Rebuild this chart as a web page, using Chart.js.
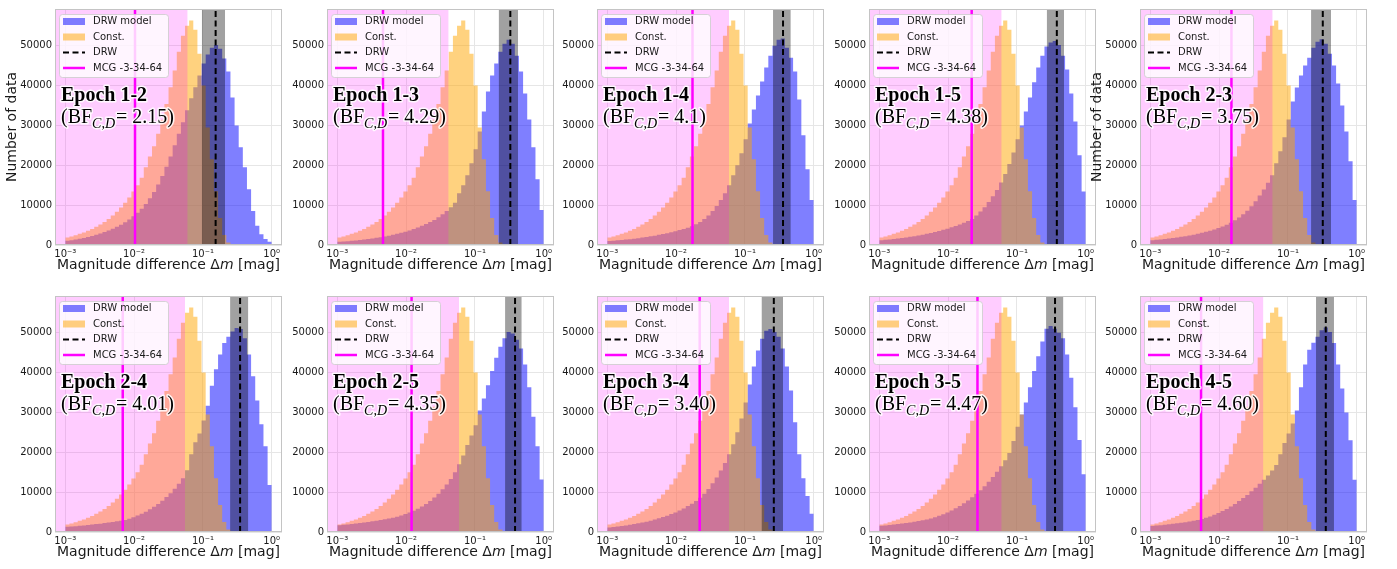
<!DOCTYPE html>
<html>
<head>
<meta charset="utf-8">
<script src="https://cdn.jsdelivr.net/npm/chart.js@4.4.1/dist/chart.umd.min.js"></script>
<style>
html, body { margin: 0; padding: 0; background: #fff; overflow: hidden; }
#wrap { position: relative; width: 1397px; height: 569px; }
#wrap canvas { position: absolute; }
</style>
</head>
<body>
<div id="wrap"></div>
<script>
// Histogram bin edges (50 log-spaced bins between 1e-3 and 1)
const binEdges = [0.001, 0.001148, 0.001318, 0.001514, 0.001738, 0.001995, 0.002291, 0.002630, 0.003020, 0.003467,
  0.003981, 0.004571, 0.005248, 0.006026, 0.006918, 0.007943, 0.009120, 0.010471, 0.012023, 0.013804,
  0.015849, 0.018197, 0.020893, 0.023988, 0.027542, 0.031623, 0.036308, 0.041687, 0.047863, 0.054954,
  0.063096, 0.072444, 0.083176, 0.095499, 0.109648, 0.125893, 0.144544, 0.165959, 0.190546, 0.218776,
  0.251189, 0.288403, 0.331131, 0.380189, 0.436516, 0.501187, 0.575440, 0.660693, 0.758578, 0.870964, 1.0];

// Const. model counts (same simulation in every panel)
const constCounts = [1900, 2150, 2450, 2800, 3150, 3550, 4000, 4550, 5150, 5800,
  6550, 7400, 8350, 9400, 10600, 11900, 13400, 15000, 16900, 19500,
  22200, 24800, 27900, 31400, 35400, 39600, 43800, 48500, 52500, 55000,
  56300, 54000, 48000, 40000, 29500, 21500, 13500, 6800, 2500, 600,
  100, 0, 0, 0, 0, 0, 0, 0, 0, 0];

// DRW model counts, one array per epoch pair
const drw12 = [1050, 1200, 1350, 1550, 1750, 2000, 2250, 2550, 2900, 3250,
  3650, 4100, 4600, 5100, 5700, 6400, 7200, 8100, 9100, 10300,
  11700, 13300, 15200, 17300, 19600, 22200, 25000, 27900, 30800, 33800,
  36800, 39600, 42500, 45500, 47800, 49500, 50200, 49200, 46800, 43500,
  37000, 30000, 24500, 19500, 14000, 8500, 4800, 2700, 1500, 800];
const drw13 = [800, 880, 960, 1050, 1150, 1260, 1380, 1510, 1650, 1800,
  1960, 2140, 2340, 2560, 2800, 3060, 3350, 3660, 4000, 4380,
  4800, 5250, 5750, 6300, 6950, 7700, 8550, 9500, 10600, 13000,
  15000, 17500, 20500, 24000, 28500, 33500, 38500, 42500, 45500, 48500,
  50500, 51500, 50500, 47500, 43500, 38000, 31500, 24500, 16500, 8800];
const drw14 = [1000, 1080, 1170, 1260, 1360, 1470, 1590, 1720, 1860, 2010,
  2170, 2350, 2540, 2750, 2970, 3210, 3470, 3750, 4000, 4300,
  4700, 5200, 5800, 6500, 7400, 8500, 9800, 11300, 13000, 15000,
  17500, 20000, 23000, 26500, 30500, 34000, 37500, 41000, 44500, 47500,
  50000, 51500, 51800, 49500, 47000, 43500, 36500, 27500, 19000, 11300];
const drw15 = [1200, 1300, 1400, 1510, 1630, 1760, 1900, 2050, 2220, 2400,
  2590, 2800, 3020, 3260, 3520, 3800, 4100, 4430, 4790, 5170,
  5590, 6030, 6550, 7400, 8400, 9500, 10800, 12200, 13800, 15700,
  17800, 20300, 23200, 26500, 30000, 33500, 37000, 40800, 44500, 47500,
  49800, 50800, 51200, 50200, 47500, 44000, 38000, 31000, 22500, 13400];
const drw23 = [1200, 1300, 1400, 1510, 1630, 1760, 1900, 2050, 2220, 2400,
  2600, 2820, 3060, 3320, 3600, 3900, 4250, 4650, 5100, 5600,
  6200, 6900, 7700, 8600, 9700, 11000, 12400, 13900, 15600, 17500,
  20500, 23500, 27000, 31500, 36000, 39500, 42500, 45000, 47000, 49500,
  51000, 51600, 50500, 48000, 45000, 40500, 35000, 28500, 21000, 11300];
const drw24 = [1300, 1380, 1470, 1560, 1650, 1760, 1870, 1980, 2100, 2230,
  2370, 2520, 2680, 2840, 3000, 3350, 3700, 4150, 4600, 5100,
  5700, 6350, 7050, 7850, 8750, 9750, 10850, 12100, 13500, 15500,
  19500, 22500, 24700, 28000, 31700, 36700, 40800, 44500, 47400, 49000,
  50300, 51200, 50900, 48600, 44500, 39100, 33000, 27000, 21500, 11800];
const drw25 = [1700, 1800, 1900, 2000, 2120, 2250, 2380, 2520, 2670, 2830,
  3000, 3180, 3380, 3600, 3850, 4150, 4500, 4900, 5350, 5850,
  6400, 7050, 7800, 8650, 9600, 10700, 11900, 13300, 15000, 17000,
  19200, 21800, 24200, 26800, 30500, 33500, 36800, 40400, 43700, 46500,
  48600, 50200, 49800, 48200, 46000, 42000, 36300, 28900, 21500, 13200];
const drw34 = [1150, 1250, 1380, 1500, 1650, 1800, 1980, 2170, 2380, 2600,
  2850, 3120, 3420, 3750, 4100, 4500, 4900, 5400, 5900, 6500,
  7100, 7800, 8600, 9600, 10800, 12200, 13700, 15400, 17300, 19500,
  22000, 25000, 28500, 32500, 37000, 41500, 45500, 48500, 50500, 50900,
  50200, 49000, 46000, 41500, 35500, 27500, 19500, 13500, 9000, 4600];
const drw35 = [1550, 1650, 1760, 1870, 1990, 2120, 2260, 2410, 2570, 2740,
  2920, 3120, 3400, 3700, 4050, 4450, 4900, 5400, 5950, 6550,
  7200, 7900, 8700, 9600, 10500, 11500, 12600, 13800, 15100, 16500,
  18000, 19800, 22800, 26400, 29500, 32500, 36300, 40400, 44100, 47800,
  51000, 51700, 51000, 50000, 48600, 44500, 38700, 31300, 23100, 14500];
const drw45 = [1500, 1600, 1700, 1800, 1920, 2050, 2180, 2320, 2470, 2630,
  2800, 3000, 3250, 3550, 3900, 4300, 4750, 5250, 5800, 6400,
  7050, 7750, 8500, 9300, 10200, 11100, 12100, 13100, 14200, 15400,
  16800, 19500, 22300, 24700, 27200, 30500, 36300, 42000, 45700, 47500,
  49000, 50600, 51300, 50200, 47400, 42000, 36000, 30000, 23000, 13100];
const drwModelCounts = [drw12, drw13, drw14, drw15, drw23, drw24, drw25, drw34, drw35, drw45];

// Per-panel labels and marker values
const epochLabels = ['1-2', '1-3', '1-4', '1-5', '2-3', '2-4', '2-5', '3-4', '3-5', '4-5'];
const bfValues = ['2.15', '4.29', '4.1', '4.38', '3.75', '4.01', '4.35', '3.40', '4.47', '4.60'];
const mcgValues = [0.0103, 0.00461, 0.0173, 0.0220, 0.0151, 0.00683, 0.0120, 0.0220, 0.0267, 0.00546];
const drwValues = [0.153, 0.327, 0.358, 0.380, 0.321, 0.347, 0.383, 0.263, 0.358, 0.355];
const drwLow = [0.0962, 0.221, 0.256, 0.271, 0.217, 0.248, 0.274, 0.174, 0.265, 0.256];
const drwHigh = [0.210, 0.424, 0.464, 0.484, 0.424, 0.457, 0.479, 0.358, 0.474, 0.467];
const pinkEnds = [0.060, 0.0415, 0.0587, 0.060, 0.060, 0.055, 0.0587, 0.0588, 0.060, 0.044];
const yLabelPanels = [0, 4];

const xTickValues = [0.001, 0.01, 0.1, 1];
const xTickLabels = ['10\u207B\u00B3', '10\u207B\u00B2', '10\u207B\u00B9', '10\u2070'];
const yTickValues = [0, 10000, 20000, 30000, 40000, 50000];

const X_MIN = 7.08e-4, X_MAX = 1.41, Y_MAX = 59200;
const canvasLefts = [0, 272, 542, 814, 1085];
const canvasTops = [0, 287];

Chart.defaults.font.family = '"DejaVu Sans"';
Chart.defaults.color = '#1a1a1a';

function histPoints(counts) {
  const pts = counts.map((c, i) => ({x: binEdges[i], y: c}));
  pts.push({x: binEdges[binEdges.length - 1], y: counts[counts.length - 1]});
  return pts;
}

function outlined(ctx, text, x, y) {
  ctx.strokeText(text, x, y);
  ctx.fillText(text, x, y);
}

// Frame, legend, epoch text and axis titles
const decoPlugin = {
  id: 'deco',
  afterDatasetsDraw(chart, args, opts) {
    const ctx = chart.ctx, a = chart.chartArea;
    ctx.save();
    ctx.strokeStyle = '#c4c4c4';
    ctx.lineWidth = 1;
    ctx.strokeRect(a.left + 0.5, a.top + 0.5, a.right - a.left - 1, a.bottom - a.top - 1);

    // legend box
    const lx = a.left + 4, ly = a.top + 5;
    ctx.fillStyle = 'rgba(255,255,255,0.8)';
    ctx.strokeStyle = 'rgba(204,204,204,0.8)';
    ctx.beginPath();
    ctx.roundRect(lx + 0.5, ly + 0.5, 109, 63, 3);
    ctx.fill();
    ctx.stroke();
    const items = chart.data.datasets.filter(d => d.legendRank !== undefined)
      .sort((p, q) => p.legendRank - q.legendRank);
    ctx.font = '10px "DejaVu Sans"';
    ctx.textBaseline = 'middle';
    items.forEach((ds, k) => {
      const cy = a.top + 12.5 + k * 15.5;
      if (ds.legendKind === 'patch') {
        ctx.fillStyle = ds.backgroundColor;
        ctx.fillRect(a.left + 8, cy - 3.5, 22, 7);
      } else {
        ctx.strokeStyle = ds.borderColor;
        ctx.lineWidth = ds.borderWidth;
        ctx.setLineDash(ds.borderDash || []);
        ctx.beginPath();
        ctx.moveTo(a.left + 8, cy);
        ctx.lineTo(a.left + 30, cy);
        ctx.stroke();
        ctx.setLineDash([]);
      }
      ctx.fillStyle = '#1a1a1a';
      ctx.fillText(ds.label, a.left + 38, cy);
    });

    // epoch annotation with white halo
    ctx.textBaseline = 'alphabetic';
    ctx.lineJoin = 'round';
    ctx.lineWidth = 3;
    ctx.strokeStyle = 'rgba(255,255,255,0.85)';
    ctx.fillStyle = '#000';
    const tx = a.left + 6;
    ctx.font = 'bold 20px "Liberation Serif"';
    outlined(ctx, 'Epoch ' + opts.epoch, tx, a.top + 92);
    let x = tx;
    const by = a.top + 114;
    ctx.font = '20px "Liberation Serif"';
    outlined(ctx, '(BF', x, by);
    x += ctx.measureText('(BF').width;
    ctx.font = 'italic 14px "Liberation Serif"';
    outlined(ctx, 'C,D', x, by + 5);
    x += ctx.measureText('C,D').width + 1;
    ctx.font = '20px "Liberation Serif"';
    outlined(ctx, '= ' + opts.bf + ')', x, by);

    // x axis title with italic m
    ctx.fillStyle = '#1a1a1a';
    ctx.textBaseline = 'middle';
    const p1 = 'Magnitude difference \u0394', p2 = 'm', p3 = ' [mag]';
    ctx.font = '14px "DejaVu Sans"';
    const w1 = ctx.measureText(p1).width, w3 = ctx.measureText(p3).width;
    ctx.font = 'italic 14px "DejaVu Sans"';
    const w2 = ctx.measureText(p2).width;
    let sx = (a.left + a.right) / 2 - (w1 + w2 + w3) / 2;
    const ty = a.bottom + 20;
    ctx.font = '14px "DejaVu Sans"';
    ctx.fillText(p1, sx, ty);
    ctx.font = 'italic 14px "DejaVu Sans"';
    ctx.fillText(p2, sx + w1, ty);
    ctx.font = '14px "DejaVu Sans"';
    ctx.fillText(p3, sx + w1 + w2, ty);

    if (opts.yTitle) {
      ctx.translate(a.left - 43, (a.top + a.bottom) / 2);
      ctx.rotate(-Math.PI / 2);
      ctx.textAlign = 'center';
      ctx.fillText('Number of data', 0, 0);
    }
    ctx.restore();
  }
};

const wrap = document.getElementById('wrap');

epochLabels.forEach((label, p) => {
  const canvas = document.createElement('canvas');
  canvas.width = 290;
  canvas.height = 282;
  canvas.style.left = canvasLefts[p % 5] + 'px';
  canvas.style.top = canvasTops[Math.floor(p / 5)] + 'px';
  wrap.appendChild(canvas);

  const datasets = [
    {
      label: 'DRW', order: 0, legendRank: 2, legendKind: 'line',
      data: [{x: drwValues[p], y: 0}, {x: drwValues[p], y: Y_MAX}],
      borderColor: '#000', borderWidth: 2, borderDash: [6, 3.5],
      pointRadius: 0, fill: false
    },
    {
      label: 'MCG -3-34-64', order: 1, legendRank: 3, legendKind: 'line',
      data: [{x: mcgValues[p], y: 0}, {x: mcgValues[p], y: Y_MAX}],
      borderColor: '#ff00ff', borderWidth: 2.5,
      pointRadius: 0, fill: false
    },
    {
      label: 'DRW range', order: 2,
      data: [{x: drwLow[p], y: Y_MAX}, {x: drwHigh[p], y: Y_MAX}],
      backgroundColor: 'rgba(0,0,0,0.37)', borderColor: 'rgba(0,0,0,0)', borderWidth: 0,
      pointRadius: 0, fill: 'origin'
    },
    {
      label: 'threshold', order: 3,
      data: [{x: X_MIN, y: Y_MAX}, {x: pinkEnds[p], y: Y_MAX}],
      backgroundColor: 'rgba(255,0,255,0.2)', borderColor: 'rgba(0,0,0,0)', borderWidth: 0,
      pointRadius: 0, fill: 'origin'
    },
    {
      label: 'Const.', order: 4, legendRank: 1, legendKind: 'patch',
      data: histPoints(constCounts), stepped: 'before',
      backgroundColor: 'rgba(255,165,0,0.5)', borderColor: 'rgba(0,0,0,0)', borderWidth: 0,
      pointRadius: 0, fill: 'origin'
    },
    {
      label: 'DRW model', order: 5, legendRank: 0, legendKind: 'patch',
      data: histPoints(drwModelCounts[p]), stepped: 'before',
      backgroundColor: 'rgba(0,0,255,0.5)', borderColor: 'rgba(0,0,0,0)', borderWidth: 0,
      pointRadius: 0, fill: 'origin'
    }
  ];

  new Chart(canvas.getContext('2d'), {
    type: 'line',
    data: {datasets: datasets},
    plugins: [decoPlugin],
    options: {
      responsive: false,
      animation: false,
      events: [],
      layout: {padding: {top: 5, right: 8, left: 0, bottom: 0}},
      scales: {
        x: {
          type: 'logarithmic',
          min: X_MIN,
          max: X_MAX,
          bounds: 'data',
          afterBuildTicks: scale => { scale.ticks = xTickValues.map(v => ({value: v})); },
          afterFit: scale => { scale.height = 37; },
          grid: {color: '#e6e6e6', drawTicks: false},
          border: {display: false},
          ticks: {
            autoSkip: false, maxRotation: 0, padding: 3,
            font: {size: 10}, color: '#1a1a1a',
            callback: v => xTickLabels[xTickValues.indexOf(v)]
          }
        },
        y: {
          type: 'linear',
          min: 0,
          max: Y_MAX,
          bounds: 'data',
          afterBuildTicks: scale => { scale.ticks = yTickValues.map(v => ({value: v})); },
          afterFit: scale => { scale.width = 55; },
          grid: {color: '#e6e6e6', drawTicks: false},
          border: {display: false},
          ticks: {
            padding: 3, font: {size: 10}, color: '#1a1a1a',
            callback: v => String(v)
          }
        }
      },
      plugins: {
        legend: {display: false},
        tooltip: {enabled: false},
        deco: {epoch: label, bf: bfValues[p], yTitle: yLabelPanels.includes(p)}
      }
    }
  });
});
</script>
</body>
</html>
